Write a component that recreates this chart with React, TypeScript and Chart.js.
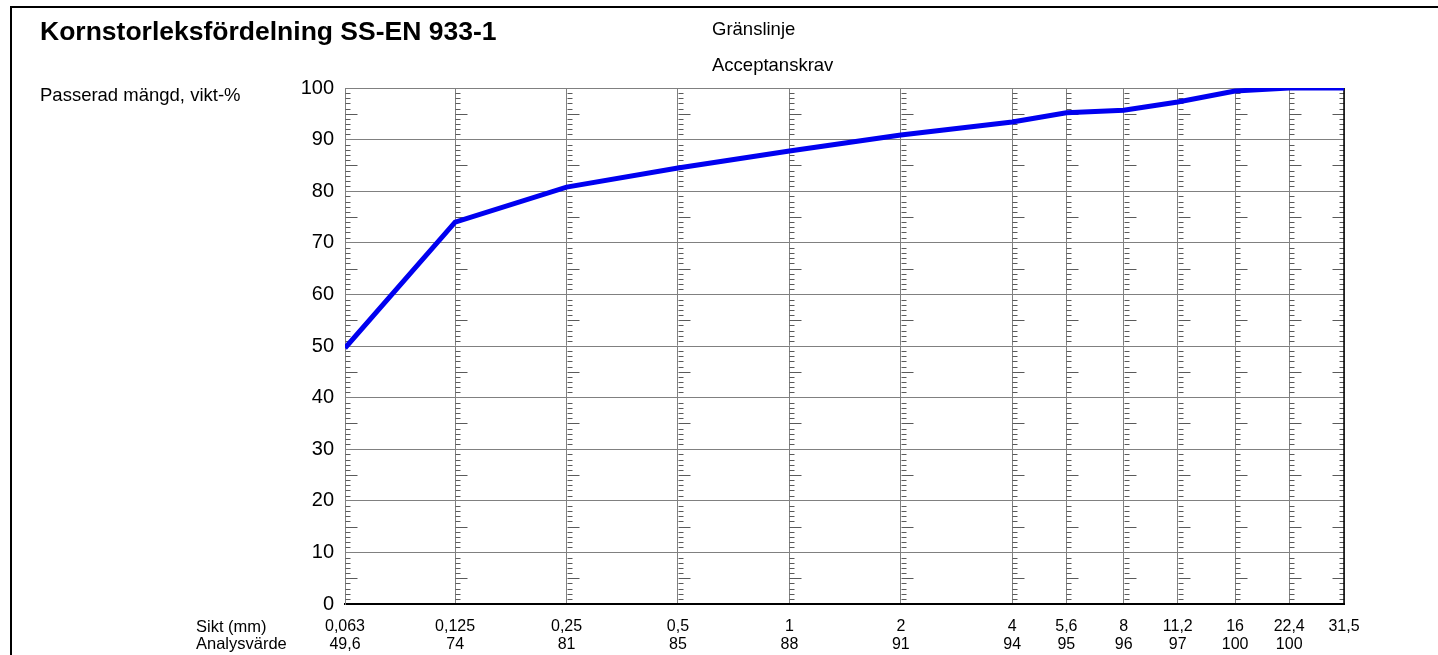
import React, { useEffect, useRef } from "react";
import { Chart, registerables } from "chart.js";

Chart.register(...registerables);

const sieves = [0.063, 0.125, 0.25, 0.5, 1, 2, 4, 5.6, 8, 11.2, 16, 22.4, 31.5];
const sieveLabels = ["0,063", "0,125", "0,25", "0,5", "1", "2", "4", "5,6", "8", "11,2", "16", "22,4", "31,5"];
const analysisLabels = ["49,6", "74", "81", "85", "88", "91", "94", "95", "96", "97", "100", "100", ""];
const passed = [49.6, 74, 80.8, 84.5, 87.8, 90.9, 93.4, 95.2, 95.7, 97.3, 99.4, 100, 100];
const yTicks = [0, 10, 20, 30, 40, 50, 60, 70, 80, 90, 100];

const FONT = '"Liberation Sans", Arial, sans-serif';

const overlay = {
  id: "overlay",
  beforeDatasetsDraw(chart: any) {
    const { ctx, chartArea, scales } = chart;
    const x = scales.x;
    const y = scales.y;
    ctx.save();
    ctx.strokeStyle = "#5a5a5a";
    ctx.lineWidth = 1;
    sieves.forEach((s, i) => {
      const px = Math.round(x.getPixelForValue(s)) + 0.5;
      const dir = i === sieves.length - 1 ? -1 : 1;
      for (let v = 1; v < 100; v++) {
        if (v % 10 === 0) continue;
        const len = v % 5 === 0 ? 12 : 5;
        const py = Math.round(y.getPixelForValue(v)) + 0.5;
        ctx.beginPath();
        ctx.moveTo(px, py);
        ctx.lineTo(px + dir * len, py);
        ctx.stroke();
      }
    });
    ctx.strokeStyle = "#000";
    ctx.lineWidth = 1.5;
    const rx = x.getPixelForValue(sieves[sieves.length - 1]);
    ctx.beginPath();
    ctx.moveTo(rx, chartArea.top);
    ctx.lineTo(rx, chartArea.bottom);
    ctx.stroke();
    ctx.restore();
  },
  afterDraw(chart: any) {
    const { ctx } = chart;
    ctx.save();
    ctx.fillStyle = "#000";
    ctx.fillRect(10, 6, 1428, 2);
    ctx.fillRect(10, 6, 2, 649);
    ctx.textBaseline = "alphabetic";
    ctx.textAlign = "left";
    ctx.font = `bold 26.5px ${FONT}`;
    ctx.fillText("Kornstorleksfördelning SS-EN 933-1", 40, 40);
    ctx.font = `18.5px ${FONT}`;
    ctx.fillText("Passerad mängd, vikt-%", 40, 101);
    ctx.fillText("Gränslinje", 712, 35);
    ctx.fillText("Acceptanskrav", 712, 71);
    ctx.font = `16.5px ${FONT}`;
    ctx.textBaseline = "middle";
    ctx.fillText("Sikt (mm)", 196, 627);
    ctx.fillText("Analysvärde", 196, 644);
    ctx.restore();
  },
};

export default function App() {
  const ref = useRef<HTMLCanvasElement>(null);
  useEffect(() => {
    document.body.style.margin = "0";
    const chart = new Chart(ref.current as HTMLCanvasElement, {
      type: "line",
      data: {
        datasets: [
          {
            label: "Passerad mängd",
            data: sieves.map((s, i) => ({ x: s, y: passed[i] })),
            borderColor: "#0000f0",
            borderWidth: 5,
            pointRadius: 0,
            tension: 0,
            fill: false,
          },
        ],
      },
      options: {
        responsive: false,
        animation: false,
        layout: { padding: { left: 0, right: 94, top: 88, bottom: 0 } },
        plugins: { legend: { display: false }, title: { display: false }, tooltip: { enabled: false } },
        scales: {
          x: {
            type: "logarithmic",
            min: 0.063,
            max: 31.5,
            afterBuildTicks: (axis: any) => {
              axis.ticks = sieves.map((v) => ({ value: v }));
            },
            afterFit: (axis: any) => {
              axis.height = 51;
            },
            ticks: {
              autoSkip: false,
              maxRotation: 0,
              minRotation: 0,
              padding: 14,
              color: "#000",
              font: { family: FONT, size: 16, lineHeight: 1.1 },
              callback: (_v: any, i: number) => [sieveLabels[i], analysisLabels[i]],
            },
            grid: { color: "#808080", lineWidth: 1, drawTicks: false },
            border: { color: "#000", width: 2 },
          },
          y: {
            min: 0,
            max: 100,
            afterBuildTicks: (axis: any) => {
              axis.ticks = yTicks.map((v) => ({ value: v }));
            },
            afterFit: (axis: any) => {
              axis.width = 345;
            },
            ticks: {
              padding: 11,
              color: "#000",
              font: { family: FONT, size: 20 },
            },
            grid: { color: "#808080", lineWidth: 1, drawTicks: false },
            border: { color: "#808080", width: 1 },
          },
        },
      },
      plugins: [overlay],
    } as any);
    return () => chart.destroy();
  }, []);
  return (
    <div style={{ position: "absolute", left: 0, top: 0, width: 1438, height: 655 }}>
      <canvas ref={ref} width={1438} height={655} />
    </div>
  );
}
